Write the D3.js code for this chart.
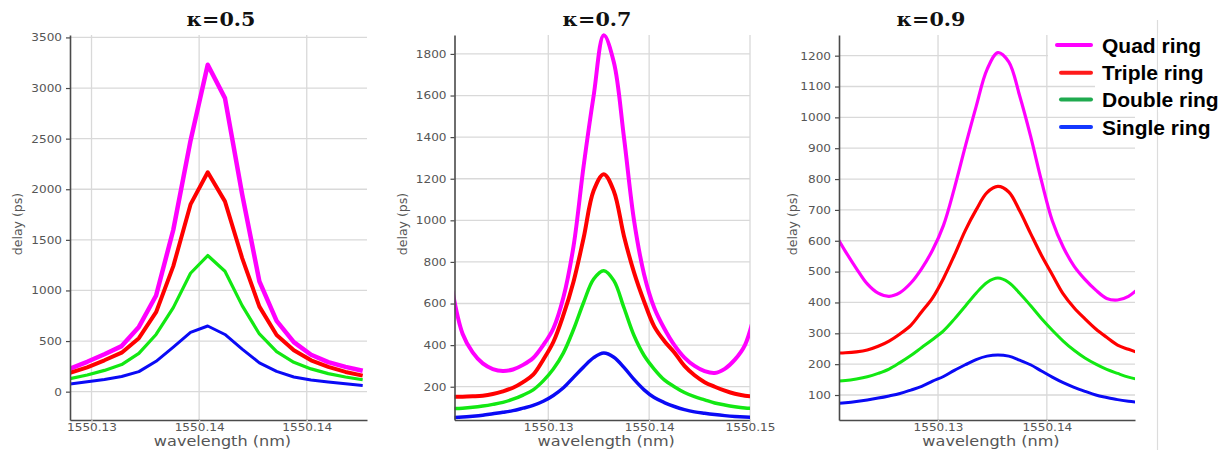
<!DOCTYPE html>
<html>
<head>
<meta charset="utf-8">
<script src="https://cdn.jsdelivr.net/npm/d3@7"></script>
<style>
  body { margin: 0; background: #fff; }
  svg { display: block; }
</style>
</head>
<body>
<svg id="chart" width="1231" height="450"></svg>
<script>
// ---- data -------------------------------------------------------------
const seriesNames = ["Quad ring", "Triple ring", "Double ring", "Single ring"];
const panelTitles = ["\u03BA=0.5", "\u03BA=0.7", "\u03BA=0.9"];

// kappa = 0.5
const k05Wavelength = [1550.1290, 1550.1298, 1550.1306, 1550.1314, 1550.1322, 1550.1330,
  1550.1338, 1550.1346, 1550.1354, 1550.1362, 1550.1370, 1550.1378, 1550.1386, 1550.1394,
  1550.1402, 1550.1410, 1550.1418, 1550.1426];
const k05Quad   = [228, 295, 370, 450, 640, 950, 1600, 2480, 3230, 2900, 1950, 1090, 700, 490, 365, 292, 245, 207];
const k05Triple = [185, 240, 310, 385, 528, 785, 1240, 1850, 2168, 1880, 1320, 840, 560, 410, 310, 245, 195, 158];
const k05Double = [128, 165, 210, 268, 379, 565, 830, 1170, 1345, 1190, 850, 570, 395, 290, 225, 178, 145, 118];
const k05Single = [75, 98, 120, 150, 198, 300, 440, 585, 649, 565, 420, 285, 200, 145, 115, 95, 78, 62];
const k05YTicks = [0, 500, 1000, 1500, 2000, 2500, 3000, 3500];
const k05XTicks = [1550.130, 1550.135, 1550.140];
const k05XTickLabels = ["1550.13", "1550.14", "1550.14"];

// kappa = 0.7
const k07Wavelength = [1550.1205, 1550.1215, 1550.1225, 1550.1235, 1550.1245, 1550.1255,
  1550.1265, 1550.1275, 1550.1285, 1550.1295, 1550.1305, 1550.1315, 1550.1325, 1550.1335,
  1550.1345, 1550.1355, 1550.1365, 1550.1375, 1550.1385, 1550.1395, 1550.1405, 1550.1415,
  1550.1425, 1550.1435, 1550.1445, 1550.1455, 1550.1465, 1550.1475, 1550.1485, 1550.1495, 1550.1505];
const k07Quad   = [660, 455, 365, 312, 285, 276, 283, 305, 338, 400, 480, 630, 875, 1260, 1600, 1890,
  1760, 1400, 1000, 740, 580, 480, 400, 340, 300, 275, 266, 286, 330, 400, 560];
const k07Triple = [152, 152, 154, 157, 165, 178, 195, 222, 258, 330, 415, 545, 705, 915, 1143, 1222,
  1140, 925, 750, 610, 490, 420, 365, 300, 255, 222, 200, 181, 166, 157, 153];
const k07Double = [95, 97, 101, 107, 115, 125, 140, 160, 185, 228, 285, 363, 475, 605, 718, 758,
  710, 580, 446, 350, 285, 233, 200, 172, 152, 137, 122, 112, 104, 98, 95];
const k07Single = [52, 54, 58, 63, 70, 77, 85, 97, 110, 130, 158, 195, 245, 295, 340, 362,
  342, 293, 235, 185, 148, 124, 105, 90, 79, 72, 66, 61, 57, 54, 52];
const k07YTicks = [200, 400, 600, 800, 1000, 1200, 1400, 1600, 1800];
const k07XTicks = [1550.13, 1550.14, 1550.15];
const k07XTickLabels = ["1550.13", "1550.14", "1550.15"];

// kappa = 0.9
const k09Wavelength = [1550.1205, 1550.1215, 1550.1225, 1550.1235, 1550.1245, 1550.1255,
  1550.1265, 1550.1275, 1550.1285, 1550.1295, 1550.1305, 1550.1315, 1550.1325, 1550.1335,
  1550.1345, 1550.1355, 1550.1365, 1550.1375, 1550.1385, 1550.1395, 1550.1405, 1550.1415,
  1550.1425, 1550.1435, 1550.1445, 1550.1455, 1550.1465, 1550.1475, 1550.1485];
const k09Quad   = [625, 565, 510, 460, 430, 420, 432, 463, 510, 570, 650, 770, 905, 1035, 1155, 1210,
  1180, 1070, 940, 795, 665, 580, 518, 475, 440, 413, 408, 420, 448];
const k09Triple = [236, 237, 240, 246, 258, 275, 298, 326, 370, 415, 478, 553, 633, 700, 756, 776,
  758, 697, 624, 553, 490, 428, 383, 347, 314, 287, 262, 248, 236];
const k09Double = [145, 147, 152, 159, 170, 184, 205, 228, 254, 280, 308, 346, 388, 430, 465, 479,
  465, 430, 390, 348, 310, 275, 245, 220, 200, 183, 170, 158, 150];
const k09Single = [72, 75, 79, 84, 90, 97, 105, 116, 128, 145, 160, 180, 198, 215, 226, 230,
  226, 213, 198, 178, 158, 140, 125, 112, 100, 92, 85, 80, 76];
const k09YTicks = [100, 200, 300, 400, 500, 600, 700, 800, 900, 1000, 1100, 1200];
const k09XTicks = [1550.13, 1550.14];
const k09XTickLabels = ["1550.13", "1550.14"];

// ---- layout & style ---------------------------------------------------
const lineColors   = ["#ff00ff", "#ff0000", "#12e812", "#0a0af5"];
const legendColors = ["#ff00ff", "#ff1a1a", "#1faa4f", "#1438ff"];
const textStretch = 1.15;
const gridColor = "#d9d9d9";
const axisColor = "#4a4a4a";
const labelColor = "#555";

const panels = [
  { wl: k05Wavelength, series: [k05Quad, k05Triple, k05Double, k05Single],
    yTicks: k05YTicks, xTicks: k05XTicks, xLabels: k05XTickLabels,
    xDomain: [1550.1290, 1550.1428], yDomain: [-280, 3524], curve: d3.curveLinear,
    left: 70, right: 367, titleX: 221, yLabelX: 22, widths: [4.5, 4, 3.2, 3] },
  { wl: k07Wavelength, series: [k07Quad, k07Triple, k07Double, k07Single],
    yTicks: k07YTicks, xTicks: k07XTicks, xLabels: k07XTickLabels,
    xDomain: [1550.1207, 1550.1500], yDomain: [40, 1891], curve: d3.curveCatmullRom.alpha(0.5),
    left: 454.5, right: 750, titleX: 597, yLabelX: 407, widths: [4, 4, 3.5, 3.5] },
  { wl: k09Wavelength, series: [k09Quad, k09Triple, k09Double, k09Single],
    yTicks: k09YTicks, xTicks: k09XTicks, xLabels: k09XTickLabels,
    xDomain: [1550.1209, 1550.1481], yDomain: [19, 1267], curve: d3.curveCatmullRom.alpha(0.5),
    left: 839, right: 1135, titleX: 931, yLabelX: 797, widths: [3.2, 3.2, 3, 3] }
];
const plotTop = 35, plotBottom = 420;

const svg = d3.select("#chart");

// light separator at the right of the last panel
svg.append("line")
  .attr("x1", 1157.5).attr("x2", 1157.5).attr("y1", 20).attr("y2", 450)
  .attr("stroke", "#dcdcdc").attr("stroke-width", 1.2);

function stretchText(sel) {
  sel.each(function () {
    const t = d3.select(this);
    const x = +t.attr("x") || 0;
    t.attr("x", x / textStretch).attr("transform", `scale(${textStretch},1)`);
  });
}

panels.forEach((p, pi) => {
  const x = d3.scaleLinear().domain(p.xDomain).range([p.left, p.right]);
  const y = d3.scaleLinear().domain(p.yDomain).range([plotBottom, plotTop]);
  const g = svg.append("g");

  // grid
  g.append("g").selectAll("line").data(p.yTicks).join("line")
    .attr("x1", p.left).attr("x2", p.right)
    .attr("y1", d => y(d)).attr("y2", d => y(d))
    .attr("stroke", gridColor).attr("stroke-width", 1.3);
  g.append("g").selectAll("line").data(p.xTicks).join("line")
    .attr("x1", d => x(d)).attr("x2", d => x(d))
    .attr("y1", plotTop).attr("y2", plotBottom)
    .attr("stroke", gridColor).attr("stroke-width", 1.3);

  // curves
  const clipId = "clip" + pi;
  svg.append("clipPath").attr("id", clipId).append("rect")
    .attr("x", p.left).attr("y", plotTop - 4)
    .attr("width", p.right - p.left).attr("height", plotBottom - plotTop + 4);
  const line = d3.line().curve(p.curve).x(d => x(d[0])).y(d => y(d[1]));
  const curves = g.append("g").attr("clip-path", `url(#${clipId})`);
  p.series.forEach((vals, si) => {
    curves.append("path")
      .datum(p.wl.map((w, i) => [w, vals[i]]))
      .attr("fill", "none")
      .attr("stroke", lineColors[si])
      .attr("stroke-width", p.widths[si])
      .attr("stroke-linejoin", "round")
      .attr("d", line);
  });

  // axes
  const yAxis = g.append("g").attr("transform", `translate(${p.left},0)`)
    .call(d3.axisLeft(y).tickValues(p.yTicks).tickFormat(d3.format("d"))
      .tickSize(4).tickSizeOuter(0).tickPadding(4));
  const xAxis = g.append("g").attr("transform", `translate(0,${plotBottom})`)
    .call(d3.axisBottom(x).tickValues(p.xTicks).tickFormat((d, i) => p.xLabels[i])
      .tickSize(5).tickSizeOuter(0).tickPadding(-1));
  [yAxis, xAxis].forEach(a => {
    a.select(".domain").attr("stroke", axisColor).attr("stroke-width", 1.6);
    a.selectAll("text").attr("fill", labelColor)
      .style("font-family", "'DejaVu Sans', Verdana, sans-serif").style("font-size", "10.5px");
  });
  yAxis.selectAll(".tick line").attr("stroke", axisColor).attr("stroke-width", 1.2);
  xAxis.selectAll(".tick line").attr("stroke", gridColor).attr("stroke-width", 1.3);
  yAxis.selectAll(".tick text").call(stretchText);
  xAxis.selectAll(".tick text").call(stretchText);

  // axis titles
  g.append("text")
    .attr("transform", `translate(${(p.left + p.right) / 2 + 4},446) scale(${textStretch},1)`)
    .attr("text-anchor", "middle")
    .attr("fill", labelColor)
    .style("font-family", "'DejaVu Sans', Verdana, sans-serif").style("font-size", "14px")
    .text("wavelength (nm)");
  g.append("text")
    .attr("transform", `translate(${p.yLabelX},224) rotate(-90)`)
    .attr("text-anchor", "middle")
    .attr("fill", labelColor)
    .style("font-family", "'DejaVu Sans', Verdana, sans-serif").style("font-size", "12.5px")
    .text("delay (ps)");

  // panel title
  g.append("text")
    .attr("transform", `translate(${p.titleX},25.5) scale(${textStretch},1)`)
    .attr("text-anchor", "middle")
    .attr("fill", "#111")
    .style("font-family", "'DejaVu Serif', serif").style("font-weight", "bold").style("font-size", "18px")
    .text(panelTitles[pi]);
});

// legend
const legend = svg.append("g");
legend.append("rect").attr("x", 1048).attr("y", 33).attr("width", 50).attr("height", 26).attr("fill", "#fff");
legend.append("rect").attr("x", 1095).attr("y", 33).attr("width", 61).attr("height", 79).attr("fill", "#fff");
legend.append("rect").attr("x", 1158).attr("y", 33).attr("width", 73).attr("height", 79).attr("fill", "#fff");
const rowY = [45, 72.7, 99.5, 127];
seriesNames.forEach((name, i) => {
  legend.append("line")
    .attr("x1", i === 0 ? 1057 : 1061).attr("x2", 1091)
    .attr("y1", rowY[i]).attr("y2", rowY[i])
    .attr("stroke", legendColors[i]).attr("stroke-width", 4)
    .attr("stroke-linecap", "round");
  legend.append("text")
    .attr("x", 1102).attr("y", rowY[i] + 7.5)
    .attr("fill", "#000")
    .style("font-family", "'Liberation Sans', Arial, sans-serif")
    .style("font-weight", "bold").style("font-size", "21px")
    .text(name);
});
</script>
</body>
</html>
